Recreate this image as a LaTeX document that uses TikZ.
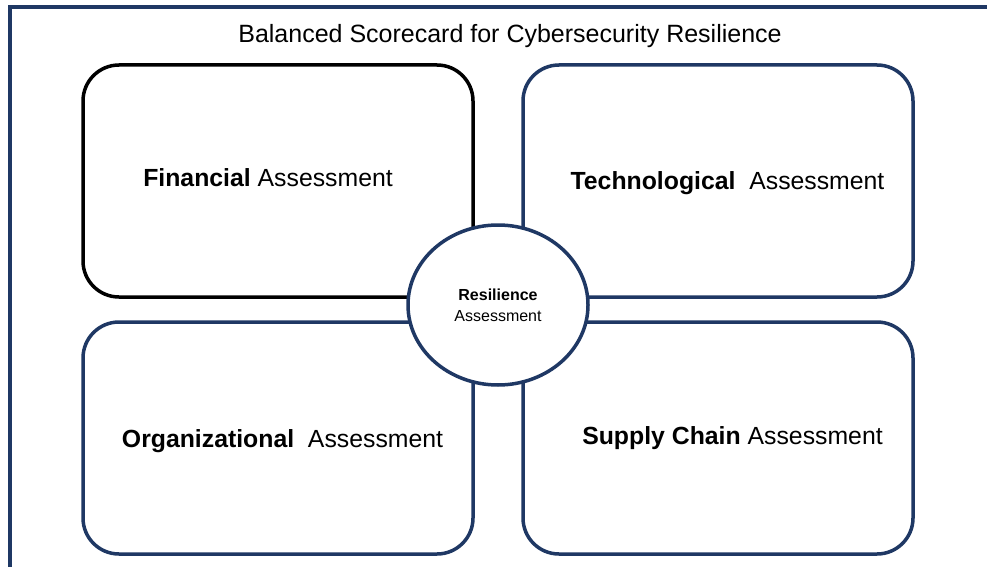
\documentclass[tikz,border=0pt]{standalone}
\usepackage{fontspec}
\setmainfont{Liberation Sans}
\usetikzlibrary{shapes.geometric}
\definecolor{navy}{HTML}{1F3864}
\begin{document}
\begin{tikzpicture}[x=1pt,y=-1pt,
  card/.style={draw=navy, line width=3.5pt, rounded corners=36pt,
    minimum width=390pt, minimum height=232pt, inner sep=0pt, fill=white},
  cardtext/.style={anchor=base, inner sep=0pt, font=\fontsize{24.8}{29}\selectfont},
  hubtext/.style={anchor=base, inner sep=0pt, font=\fontsize{16}{19}\selectfont},
  hub/.style={ellipse, draw=navy, line width=3.5pt, fill=white,
    minimum width=180pt, minimum height=160pt, inner sep=0pt}]
\useasboundingbox (0,0) rectangle (987,567);
% outer frame
\draw[navy, line width=4pt] (9.5,575) -- (9.5,7) -- (995,7);
% title
\node[anchor=base, inner sep=0pt, font=\fontsize{25}{30}\selectfont] (title) at (510,43)
  {Balanced Scorecard for Cybersecurity Resilience};
% the four perspective cards
\node[card, draw=black] (fin) at (278,181) {};
\node[card] (tech) at (718,181) {};
\node[card] (org) at (278,438) {};
\node[card] (sup) at (718,438) {};
% central hub
\node[hub] (hub) at (498,305) {};
% labels
\node[cardtext] (finlbl) at (268,186.5) {\textbf{Financial} Assessment};
\node[cardtext] (techlbl) at (727.5,189.3) {\textbf{Technological}\ \ Assessment};
\node[cardtext] (orglbl) at (282.5,447) {\textbf{Organizational}\ \ Assessment};
\node[cardtext] (suplbl) at (732.5,444.7) {\textbf{Supply Chain} Assessment};
\node[hubtext] (hubtop) at (498,300) {\textbf{Resilience}};
\node[hubtext] (hubbot) at (498,321.7) {Assessment};
\end{tikzpicture}
\end{document}
